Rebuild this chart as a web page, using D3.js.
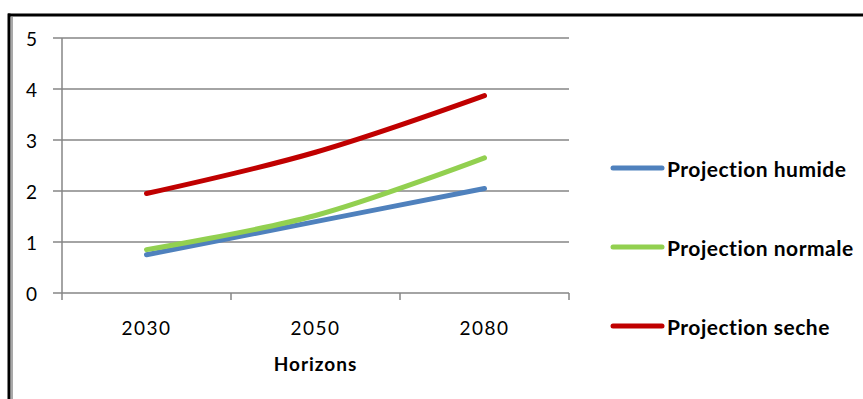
<!DOCTYPE html>
<html>
<head>
<meta charset="utf-8">
<script src="https://cdn.jsdelivr.net/npm/d3@7"></script>
<style>
  html, body { margin: 0; padding: 0; background: #fff; }
  svg { display: block; }
  text { font-family: Lato, "Open Sans", sans-serif; fill: #000; }
</style>
</head>
<body>
<svg id="chart" width="863" height="399"></svg>
<script>
// Horizons and projected values per scenario
const horizons = ["2030", "2050", "2080"];
const humide = [0.75, 1.40, 2.05];
const normale = [0.85, 1.52, 2.65];
const seche = [1.95, 2.76, 3.87];
const seriesNames = ["Projection humide", "Projection normale", "Projection seche"];
const seriesColors = ["#4F81BD", "#92D050", "#C00000"];
const yTicks = [0, 1, 2, 3, 4, 5];
const xTitle = "Horizons";

const series = [humide, normale, seche].map((values, i) => ({
  name: seriesNames[i], color: seriesColors[i], values
}));

const svg = d3.select("#chart");

// Outer frame
svg.append("line").attr("x1", 8).attr("x2", 863).attr("y1", 15).attr("y2", 15)
  .attr("stroke", "#000").attr("stroke-width", 3);
svg.append("line").attr("x1", 9).attr("x2", 9).attr("y1", 13.5).attr("y2", 399)
  .attr("stroke", "#000").attr("stroke-width", 3);
svg.append("line").attr("x1", 12).attr("x2", 12).attr("y1", 17).attr("y2", 399)
  .attr("stroke", "#8c8c8c").attr("stroke-width", 1.5);

const plot = { left: 62, right: 569, top: 38, bottom: 293 };

const x = d3.scaleBand().domain(horizons).range([plot.left, plot.right]).padding(0);
const y = d3.scaleLinear().domain([0, 5]).range([plot.bottom, plot.top]);

const grid = "#868686";

// Horizontal gridlines with left tick stubs
svg.append("g").selectAll("line").data(yTicks).join("line")
  .attr("x1", plot.left - 9).attr("x2", plot.right)
  .attr("y1", d => y(d)).attr("y2", d => y(d))
  .attr("stroke", grid).attr("stroke-width", 1.5);

// Vertical axis line
svg.append("line").attr("x1", plot.left).attr("x2", plot.left)
  .attr("y1", plot.top).attr("y2", plot.bottom + 7)
  .attr("stroke", grid).attr("stroke-width", 1.5);

// Category boundary ticks on the x axis
const bounds = horizons.map(h => x(h)).concat([x(horizons[horizons.length - 1]) + x.bandwidth()]);
svg.append("g").selectAll("line").data(bounds.slice(1)).join("line")
  .attr("x1", d => d).attr("x2", d => d)
  .attr("y1", plot.bottom).attr("y2", plot.bottom + 7)
  .attr("stroke", grid).attr("stroke-width", 1.5);

// Y tick labels
svg.append("g").selectAll("text").data(yTicks).join("text")
  .attr("x", 37).attr("y", d => y(d))
  .attr("text-anchor", "end").attr("dominant-baseline", "central")
  .style("font-size", "19px")
  .text(d => d);

// X tick labels
svg.append("g").selectAll("text").data(horizons).join("text")
  .attr("x", d => x(d) + x.bandwidth() / 2).attr("y", 327)
  .attr("text-anchor", "middle").attr("dominant-baseline", "central")
  .style("font-size", "19px").style("letter-spacing", "1.5px")
  .text(d => d);

// Axis title
svg.append("text").attr("x", (plot.left + plot.right) / 2).attr("y", 363)
  .attr("text-anchor", "middle").attr("dominant-baseline", "central")
  .style("font-size", "19px").style("font-weight", "bold").style("letter-spacing", "1px")
  .text(xTitle);

// Smoothed series lines
const line = d3.line()
  .x((d, i) => x(horizons[i]) + x.bandwidth() / 2)
  .y(d => y(d))
  .curve(d3.curveCatmullRom.alpha(0.5));

svg.append("g").selectAll("path").data(series).join("path")
  .attr("d", d => line(d.values))
  .attr("fill", "none")
  .attr("stroke", d => d.color)
  .attr("stroke-width", 5)
  .attr("stroke-linecap", "round")
  .attr("stroke-linejoin", "round");

// Legend
const legend = svg.append("g").selectAll("g").data(series).join("g")
  .attr("transform", (d, i) => `translate(613, ${168 + i * 79})`);
legend.append("line").attr("x1", 0).attr("x2", 49).attr("y1", 0).attr("y2", 0)
  .attr("stroke", d => d.color).attr("stroke-width", 5).attr("stroke-linecap", "round");
legend.append("text").attr("x", 54).attr("y", 0)
  .attr("dominant-baseline", "central")
  .style("font-size", "21px").style("font-weight", "bold").style("letter-spacing", "0.5px")
  .text(d => d.name);
</script>
</body>
</html>
